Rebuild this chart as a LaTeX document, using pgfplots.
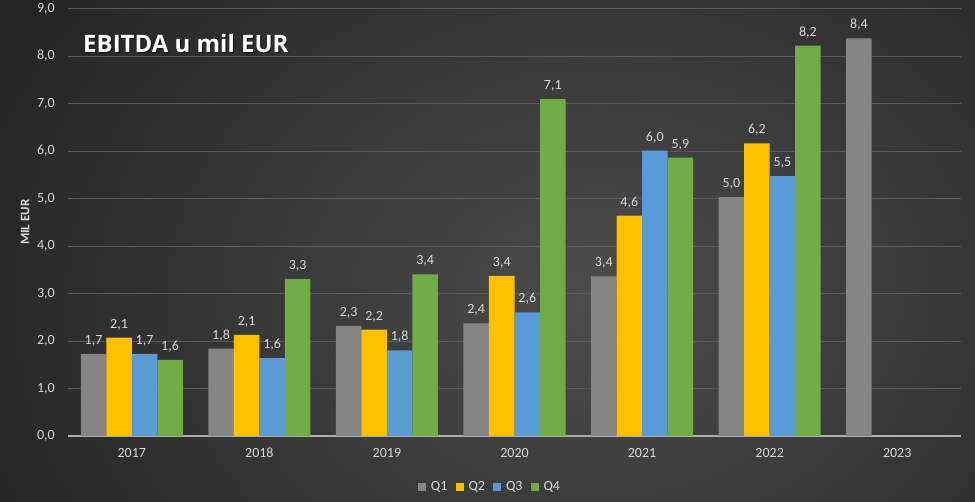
\documentclass[border=0pt]{standalone}
\usepackage{pgfplots}
\pgfplotsset{compat=1.18}
\usepackage{fontspec}
\setmainfont{Carlito}
\newfontfamily\titlefont{Open Sans}
\definecolor{cQ1}{HTML}{858585}
\definecolor{cQ2}{HTML}{FFC000}
\definecolor{cQ3}{HTML}{5B9BD5}
\definecolor{cQ4}{HTML}{70AD47}
\definecolor{txt}{HTML}{D9D9D9}
\definecolor{gridc}{HTML}{5A5A5A}
\definecolor{bgin}{HTML}{4C4C4C}
\definecolor{bgout}{HTML}{242424}
\begin{document}
\begin{tikzpicture}
\begin{scope}
\clip (0,0) rectangle (975pt,502pt);
\shade[inner color=bgin, outer color=bgout] (-80pt,-330pt) rectangle (1280pt,730pt);
\end{scope}
\node[anchor=west, inner sep=0pt, text=black, opacity=0.6, font=\titlefont\bfseries\fontsize{24pt}{28pt}\selectfont] at (84pt,457pt) {EBITDA u mil EUR};
\node[anchor=west, inner sep=0pt, text=white, font=\titlefont\bfseries\fontsize{24pt}{28pt}\selectfont] at (83pt,458pt) {EBITDA u mil EUR};
\begin{axis}[
  at={(68pt,66pt)}, anchor=south west,
  scale only axis, width=893pt, height=427.5pt,
  xmin=-0.5, xmax=6.5, ymin=0, ymax=9,
  ybar, bar width=0.2,
  xtick={0,1,2,3,4,5,6},
  xticklabels={2017,2018,2019,2020,2021,2022,2023},
  ytick={0,1,2,3,4,5,6,7,8,9},
  /pgf/number format/.cd, use comma, fixed, fixed zerofill, precision=1, assume math mode=true,
  /pgfplots/.cd,
  major tick length=0pt,
  axis x line*=bottom, axis y line*=left,
  y axis line style={draw=none},
  x axis line style={draw=black!32!white, line width=1.1pt, -},
  ymajorgrids, grid style={draw=gridc, line width=0.8pt},
  tick label style={text=txt, font=\fontsize{14pt}{16pt}\selectfont},
  xticklabel style={anchor=base, yshift=-21.5pt, inner sep=0pt},
  yticklabel style={anchor=east, xshift=-13pt, inner sep=0pt},
  ylabel={MIL EUR},
  ylabel style={at={(axis description cs:-0.048,0.5)}, anchor=center, text=txt, font=\bfseries\fontsize{13pt}{15pt}\selectfont},
  nodes near coords={\pgfmathprintnumber[fixed,fixed zerofill,precision=1,use comma]{\pgfplotspointmeta}},
  nodes near coords style={anchor=base, yshift=9.5pt, inner sep=0pt, text=txt, font=\fontsize{14pt}{16pt}\selectfont},
  clip=false,
  legend columns=4,
  legend style={at={(0.4726,-0.1193)}, anchor=center, draw=none, fill=none, text=txt,
    font=\fontsize{14pt}{16pt}\selectfont,
    /tikz/every even column/.append style={column sep=6pt}},
  legend image code/.code={\fill[#1] (0pt,-4pt) rectangle (8pt,4pt); \path (0pt,0pt) -- (11pt,0pt);},
]
\addplot[fill=cQ1, draw=none, bar shift=-0.3] coordinates {(0,1.73) (1,1.84) (2,2.32) (3,2.37) (4,3.36) (5,5.03) (6,8.37)};
\addplot[fill=cQ2, draw=none, bar shift=-0.1] coordinates {(0,2.07) (1,2.13) (2,2.24) (3,3.37) (4,4.64) (5,6.16)};
\addplot[fill=cQ3, draw=none, bar shift=0.1] coordinates {(0,1.73) (1,1.64) (2,1.80) (3,2.60) (4,6.01) (5,5.47)};
\addplot[fill=cQ4, draw=none, bar shift=0.3] coordinates {(0,1.60) (1,3.30) (2,3.40) (3,7.09) (4,5.86) (5,8.22)};
\legend{Q1,Q2,Q3,Q4}
\end{axis}
\pgfresetboundingbox
\path (0,0) rectangle (975pt,502pt);
\end{tikzpicture}
\end{document}
